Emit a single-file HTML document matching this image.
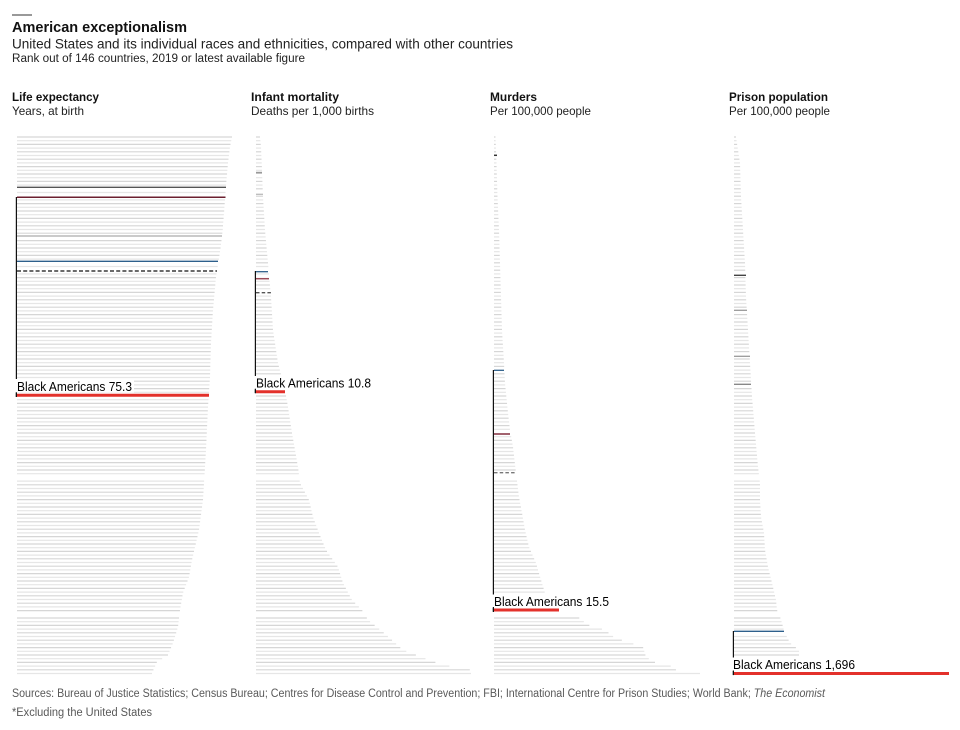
<!DOCTYPE html>
<html><head><meta charset="utf-8">
<style>
html,body{margin:0;padding:0;background:#fff;}
svg{display:block;}
text{font-family:"Liberation Sans",sans-serif;}
</style></head>
<body>
<svg id="c" width="960" height="730" viewBox="0 0 960 730" xmlns="http://www.w3.org/2000/svg">
<rect x="0" y="0" width="960" height="730" fill="#fff"/>
<line x1="12" y1="15" x2="32" y2="15" stroke="#333" stroke-width="1"/>
<text x="12" y="32" font-size="14.5" font-weight="bold" fill="#111" textLength="175" lengthAdjust="spacingAndGlyphs">American exceptionalism</text>
<text x="12" y="48.5" font-size="14" fill="#222" textLength="501" lengthAdjust="spacingAndGlyphs">United States and its individual races and ethnicities, compared with other countries</text>
<text x="12" y="62" font-size="11.5" fill="#222" textLength="293" lengthAdjust="spacingAndGlyphs">Rank out of 146 countries, 2019 or latest available figure</text>

<text x="12" y="101" font-size="12" font-weight="bold" fill="#111" textLength="87" lengthAdjust="spacingAndGlyphs">Life expectancy</text>
<text x="12" y="115" font-size="12" fill="#222" textLength="72" lengthAdjust="spacingAndGlyphs">Years, at birth</text>
<text x="251" y="101" font-size="12" font-weight="bold" fill="#111" textLength="88" lengthAdjust="spacingAndGlyphs">Infant mortality</text>
<text x="251" y="115" font-size="12" fill="#222" textLength="123" lengthAdjust="spacingAndGlyphs">Deaths per 1,000 births</text>
<text x="490" y="101" font-size="12" font-weight="bold" fill="#111" textLength="47" lengthAdjust="spacingAndGlyphs">Murders</text>
<text x="490" y="115" font-size="12" fill="#222" textLength="101" lengthAdjust="spacingAndGlyphs">Per 100,000 people</text>
<text x="729" y="101" font-size="12" font-weight="bold" fill="#111" textLength="99" lengthAdjust="spacingAndGlyphs">Prison population</text>
<text x="729" y="115" font-size="12" fill="#222" textLength="101" lengthAdjust="spacingAndGlyphs">Per 100,000 people</text>

<g id="rows"></g>
<g id="spec"></g>

<rect x="14" y="379" width="120" height="13.5" fill="#fff"/>
<text x="17" y="390.8" font-size="13" fill="#000" textLength="115" lengthAdjust="spacingAndGlyphs">Black Americans 75.3</text>
<rect x="253" y="376" width="120" height="13.5" fill="#fff"/>
<text x="256" y="387.5" font-size="13" fill="#000" textLength="115" lengthAdjust="spacingAndGlyphs">Black Americans 10.8</text>
<rect x="491" y="594.5" width="120" height="13.5" fill="#fff"/>
<text x="494" y="606" font-size="13" fill="#000" textLength="115" lengthAdjust="spacingAndGlyphs">Black Americans 15.5</text>
<rect x="731" y="657.5" width="127" height="13.5" fill="#fff"/>
<text x="733" y="669" font-size="13" fill="#000" textLength="122" lengthAdjust="spacingAndGlyphs">Black Americans 1,696</text>

<g id="red"></g>

<text x="12" y="697" font-size="11.5" fill="#595959" textLength="813" lengthAdjust="spacingAndGlyphs">Sources: Bureau of Justice Statistics; Census Bureau; Centres for Disease Control and Prevention; FBI; International Centre for Prison Studies; World Bank; <tspan font-style="italic">The Economist</tspan></text>
<text x="12" y="716" font-size="11.5" fill="#595959" textLength="140" lengthAdjust="spacingAndGlyphs">*Excluding the United States</text>
</svg>
<script>
(function(){
var NS='http://www.w3.org/2000/svg';
function interp(p,y){
  if(y<=p[0][0])return p[0][1];
  for(var k=1;k<p.length;k++){
    if(y<=p[k][0]){var a=p[k-1],b=p[k];return a[1]+(b[1]-a[1])*(y-a[0])/(b[0]-a[0]);}
  }
  return p[p.length-1][1];
}
function ln(g,x1,y1,x2,y2,c,w,dash){
  var l=document.createElementNS(NS,'line');
  l.setAttribute('x1',x1);l.setAttribute('y1',y1);l.setAttribute('x2',x2);l.setAttribute('y2',y2);
  l.setAttribute('stroke',c);l.setAttribute('stroke-width',w);
  if(dash)l.setAttribute('stroke-dasharray',dash);
  g.appendChild(l);
}
var panels=[
 {s:17,pts:[[137,232],[147,230],[163,228],[180,226.5],[213,224],[230,222.7],[247,220.7],[263,218.3],[277,216],[310,213],[343,211],[377,210],[407,208],[450,206],[500,203],[530,199],[560,192],[577,189],[593,183],[610,180],[627,178],[643,173],[655,168],[662,157],[673,152]],
  sp:[{y:187.3,c:'#555',w:1.3,e:226},{y:197.3,c:'#6b1f2f',w:1.5,e:225.5},{y:236,c:'#aaa',w:1.3,e:222},{y:261.3,c:'#2d5f8b',w:1.3,e:218},{y:271,c:'#111',w:1.2,e:217,d:'4 2.2'}],
  red:{y:395.3,e:209},v:[197,397]},
 {s:256,pts:[[137,260],[147,261],[163,261.7],[197,263],[230,265],[263,268],[297,271],[330,273],[363,278],[390,285],[407,288],[433,292],[467,298],[483,300],[500,309],[517,313],[533,319],[550,326],[567,338],[583,343],[600,352],[610,362],[620,368],[633,384],[650,403],[657,421],[663,437],[667,453],[670,471],[673,471]],
  sp:[{y:172.7,c:'#999',w:1.8,e:262},{y:194.3,c:'#bbb',w:1.3,e:263},{y:271.7,c:'#2d5f8b',w:1.3,e:268},{y:278.7,c:'#9a4a57',w:1.5,e:269},{y:292.7,c:'#555',w:1.4,e:271,d:'3.5 2.2'}],
  red:{y:391.7,e:285},v:[271,393]},
 {s:494,pts:[[137,495.5],[163,496.5],[197,497.5],[230,499],[263,500],[297,501],[330,502],[363,504],[383,505],[413,508],[430,510],[447,513],[473,516],[497,519],[513,522],[530,525],[547,529],[563,536],[580,541],[593,545],[605,548],[617,578],[625,588],[630,605],[638,615],[647,643],[657,646],[663,656],[667,675],[670,676],[673,700]],
  sp:[{y:155.3,c:'#333',w:1.5,e:497},{y:370.3,c:'#2d5f8b',w:1.3,e:504},{y:434,c:'#7a1f30',w:1.4,e:510},{y:472.7,c:'#777',w:1.4,e:516,d:'3.5 2.2'}],
  red:{y:610,e:559},v:[370,612]},
 {s:734,pts:[[137,736],[163,740],[197,741],[230,743],[263,745],[297,746],[330,748],[363,750],[397,752],[408,753],[433,755],[467,758],[483,760],[500,760],[517,761],[533,764],[550,765],[567,768],[583,772],[600,776],[610,777],[617,780],[623,782],[631,784],[637,787],[643,790],[650,799],[657,799],[673,805]],
  sp:[{y:275.3,c:'#444',w:1.4,e:746},{y:310.3,c:'#999',w:1.3,e:747},{y:356.3,c:'#999',w:1.3,e:750},{y:384.3,c:'#888',w:1.3,e:751},{y:631.3,c:'#2d5f8b',w:1.3,e:784}],
  red:{y:673.5,e:949},v:[631,675]}
];
var rows=document.getElementById('rows'),spec=document.getElementById('spec'),red=document.getElementById('red');
var gaps=[479,613];
panels.forEach(function(p){
  var ys=p.sp.map(function(o){return o.y;}).concat([p.red.y]);
  for(var i=0;i<146;i++){
    var y=137+i*3.7;
    var skip=false;
    ys.forEach(function(q){if(Math.abs(q-y)<1.85)skip=true;});
    gaps.forEach(function(q){if(Math.abs(q-y)<1.85)skip=true;});
    if(skip)continue;
    var e=interp(p.pts,y);
    ln(rows,p.s,y.toFixed(2),e.toFixed(2),y.toFixed(2),(i%2?'#e6e6e6':'#d6d6d6'),1.2);
  }
  p.sp.forEach(function(o){ln(spec,p.s,o.y,o.e,o.y,o.c,o.w,o.d);});
  ln(spec,p.s-0.6,p.v[0],p.s-0.6,p.v[1],'#111',1.2);
  ln(red,p.s,p.red.y,p.red.e,p.red.y,'#e3312b',3);
  ln(red,p.s-0.6,p.red.y-3,p.s-0.6,p.red.y+1.6,'#111',1.2);
});
})();
</script>
</body></html>
